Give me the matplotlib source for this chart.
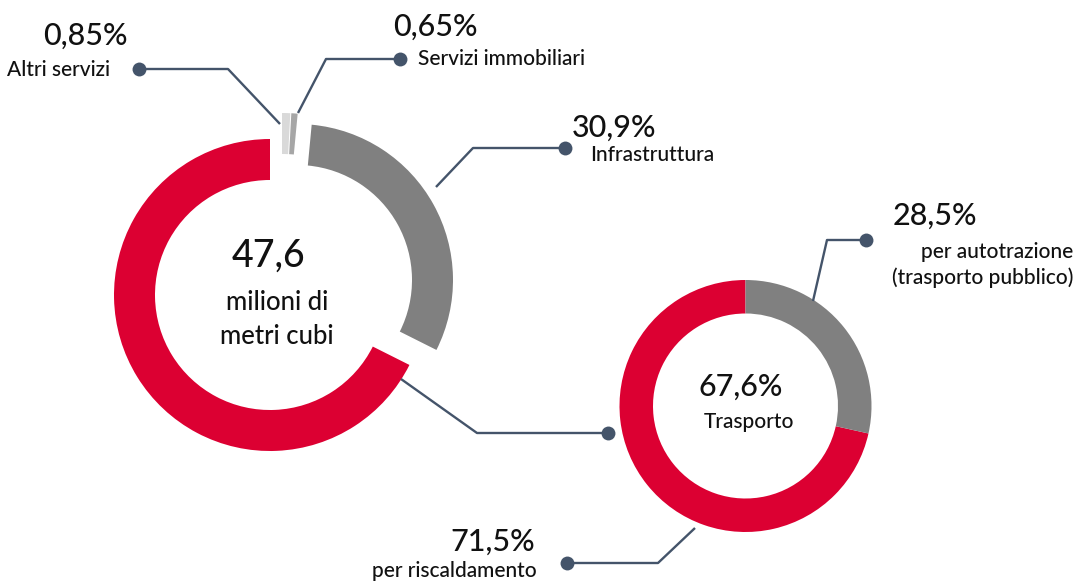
"""Donut pair: consumo di gas (milioni di metri cubi) per settore e uso nel trasporto."""

import matplotlib.pyplot as plt

W, H = 1077, 583

# big donut: share by sector (order drawn counter-clockwise from the top)
sector_names = ["Trasporto", "Infrastruttura", "Servizi immobiliari", "Altri servizi"]
sector_share = [67.6, 30.9, 0.65, 0.85]
sector_labels = ["67,6%", "30,9%", "0,65%", "0,85%"]
total_label = "47,6"
total_unit = "milioni di\nmetri cubi"

# small donut: split of the transport slice
use_names = ["per riscaldamento", "per autotrazione\n(trasporto pubblico)"]
use_share = [71.5, 28.5]
use_labels = ["71,5%", "28,5%"]

RED = "#dc0032"
GRAY = "#808080"
MID_GRAY = "#a6a6a6"
LIGHT_GRAY = "#d9d9d9"
LINE = "#44546a"
TXT = "#111111"

plt.rcParams["font.family"] = ["Lato", "DejaVu Sans"]
plt.rcParams["font.weight"] = "medium"

fig = plt.figure(figsize=(W / 100, H / 100), dpi=100)
ax = fig.add_axes([0, 0, 1, 1])


def Y(y):
    # pixel row (from top) -> data y
    return H - y


# big donut
big_c = (270, Y(295))
wedges, _ = ax.pie(sector_share, colors=[RED, GRAY, MID_GRAY, LIGHT_GRAY],
                   startangle=90, counterclock=True, radius=156, center=big_c,
                   wedgeprops=dict(width=41, linewidth=0), frame=True)
shifts = [(0, 0), (27, 15), (13, 26), (12, 26)]
for w, (dx, dy) in zip(wedges, shifts):
    w.set_center((big_c[0] + dx, big_c[1] + dy))

# small donut
small_c = (745.5, Y(406))
ax.pie(use_share, colors=[RED, GRAY], startangle=90, counterclock=True,
       radius=126, center=small_c, wedgeprops=dict(width=33.5, linewidth=0),
       frame=True)
ax.set_xlim(0, W)
ax.set_ylim(0, H)
ax.set_aspect("equal")
ax.axis("off")


def leader(pts):
    xs = [p[0] for p in pts]
    ys = [Y(p[1]) for p in pts]
    ax.plot(xs, ys, color=LINE, lw=1.7, solid_capstyle="butt")
    ax.plot(xs[-1], ys[-1], "o", color=LINE, ms=10, mec="none")


leader([(280, 124), (228, 69), (139, 69)])      # Altri servizi
leader([(298, 113), (326, 59), (400, 59)])      # Servizi immobiliari
leader([(436, 187), (473, 148), (565, 148)])    # Infrastruttura
leader([(401, 379), (477, 433), (608, 433)])    # Trasporto -> small donut
leader([(813, 301), (827, 240), (866, 240)])    # autotrazione
leader([(695, 528), (658, 563), (567, 563)])    # riscaldamento

big = 22
small = 15

# big donut labels
ax.text(128, Y(36), sector_labels[3], ha="right", va="center", fontsize=big, color=TXT)
ax.text(110, Y(70), sector_names[3], ha="right", va="center", fontsize=small, color=TXT)
ax.text(393, Y(27), sector_labels[2], ha="left", va="center", fontsize=big, color=TXT)
ax.text(418, Y(59), sector_names[2], ha="left", va="center", fontsize=small, color=TXT)
ax.text(572, Y(128), sector_labels[1], ha="left", va="center", fontsize=big, color=TXT)
ax.text(590, Y(155), sector_names[1], ha="left", va="center", fontsize=small, color=TXT)

ax.text(268, Y(256), total_label, ha="center", va="center", fontsize=27, color=TXT)
ax.text(277, Y(319), total_unit, ha="center", va="center", fontsize=18.5,
        color=TXT, linespacing=1.45)

# small donut labels
ax.text(741, Y(387), sector_labels[0], ha="center", va="center", fontsize=big, color=TXT)
ax.text(749, Y(422), sector_names[0], ha="center", va="center", fontsize=small, color=TXT)
ax.text(893, Y(216), use_labels[1], ha="left", va="center", fontsize=big, color=TXT)
ax.text(1073, Y(265), use_names[1], ha="right", va="center", fontsize=small,
        color=TXT, multialignment="right", linespacing=1.3)
ax.text(535, Y(542), use_labels[0], ha="right", va="center", fontsize=big, color=TXT)
ax.text(537, Y(571), use_names[0], ha="right", va="center", fontsize=small, color=TXT)

fig.savefig("out.png", dpi=100)
